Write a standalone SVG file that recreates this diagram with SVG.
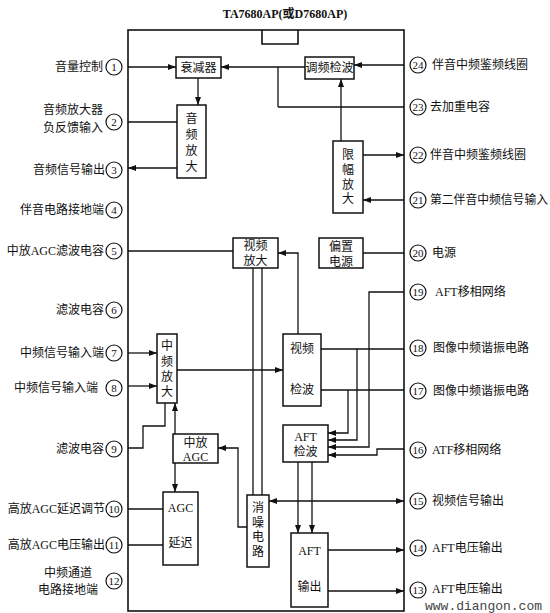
<svg xmlns="http://www.w3.org/2000/svg" width="550" height="613" viewBox="0 0 550 613">
<defs>
<marker id="arr" viewBox="0 0 8 6" refX="8" refY="3" markerWidth="8" markerHeight="6" markerUnits="userSpaceOnUse" orient="auto-start-reverse">
<path d="M0,0 L8,3 L0,6 z" fill="#111"/>
</marker>
<style>
.chip{fill:none;stroke:#111;stroke-width:1.6}
.box{fill:#fff;stroke:#111;stroke-width:1.5}
.ln{fill:none;stroke:#111;stroke-width:1.3}
.a{marker-end:url(#arr)}
.b{marker-start:url(#arr);marker-end:url(#arr)}
.pin{fill:#fff;stroke:#111;stroke-width:1.2}
.num{font-family:"Liberation Serif","Noto Sans CJK SC",serif;font-size:11px;fill:#111;text-anchor:middle}
.lbl{font-family:"Liberation Serif","Noto Sans CJK SC",serif;font-size:12px;fill:#111}
.l{text-anchor:end}
.t{font-family:"Liberation Serif","Noto Sans CJK SC",serif;font-size:12px;fill:#111;text-anchor:middle}
.wm{font-family:"Liberation Mono",monospace;font-size:13px;fill:#444}
</style>
</defs>
<text x="285" y="18" class="t" font-size="12" font-weight="bold">TA7680AP(或D7680AP)</text>
<g id="chip">
<rect x="128" y="30" width="276" height="581" class="chip"/>
<path d="M262,30 V44 H298 V30" class="chip"/>
</g>
<g id="connectors">
<path d="M128,67 H176" class="ln a"/>
<path d="M305,67 H221" class="ln a"/>
<path d="M278,107 H404 M278,107 V67" class="ln"/>
<path d="M198,78 V105" class="ln a"/>
<path d="M128,122 H177" class="ln"/>
<path d="M177,168 H128" class="ln a"/>
<path d="M404,65 H354" class="ln a"/>
<path d="M341,141 V79" class="ln a"/>
<path d="M363,155 H404" class="ln a"/>
<path d="M404,200 H363" class="ln a"/>
<path d="M128,251 H233" class="ln"/>
<path d="M363,253 H404" class="ln"/>
<path d="M298,334 V253 H278" class="ln a"/>
<path d="M128,353 H157" class="ln a"/>
<path d="M128,386 H157" class="ln a"/>
<path d="M177,370 H283" class="ln a"/>
<path d="M253,268 V495 M262,268 V495" class="ln"/>
<path d="M128,448 H143 V426 H165 V403" class="ln"/>
<path d="M175,434 V403" class="ln a"/>
<path d="M175,463 V492" class="ln a"/>
<path d="M247,527 H238 V448 H218" class="ln a"/>
<path d="M128,509 H163 M128,545 H163" class="ln"/>
<path d="M269,501 H404" class="ln b"/>
<path d="M298,462 V533" class="ln a"/>
<path d="M312,462 V533" class="ln a"/>
<path d="M328,550 H404" class="ln a"/>
<path d="M328,591 H404" class="ln a"/>
<path d="M321,349 H404 M321,390 H404" class="ln"/>
<path d="M348,390 V433 H328" class="ln a"/>
<path d="M357,349 V440 H328" class="ln a"/>
<path d="M404,292 H369 V447 H328" class="ln a"/>
<path d="M404,449 H377 V455 H328" class="ln a"/>
</g>
<g id="n-shuaijianqi"><rect x="176" y="57" width="45" height="21" class="box"/><text x="198.5" y="72" class="t">衰减器</text></g>
<g id="n-yinpinfangda"><rect x="177" y="105" width="29" height="73" class="box"/>
<text x="191.5" y="123" class="t">音</text><text x="191.5" y="139" class="t">频</text><text x="191.5" y="155" class="t">放</text><text x="191.5" y="171" class="t">大</text></g>
<g id="n-tiaopinjianbo"><rect x="305" y="57" width="49" height="22" class="box"/><text x="329.5" y="72" class="t">调频检波</text></g>
<g id="n-xianfufangda"><rect x="333" y="141" width="30" height="72" class="box"/>
<text x="348" y="159" class="t">限</text><text x="348" y="174" class="t">幅</text><text x="348" y="189" class="t">放</text><text x="348" y="203" class="t">大</text></g>
<g id="n-shipinfangda"><rect x="233" y="238" width="45" height="30" class="box"/>
<text x="255.5" y="250" class="t">视频</text><text x="255.5" y="265" class="t">放大</text></g>
<g id="n-pianzhidianyuan"><rect x="319" y="238" width="44" height="30" class="box"/>
<text x="341" y="251" class="t">偏置</text><text x="341" y="266" class="t">电源</text></g>
<g id="n-zhongpinfangda"><rect x="157" y="334" width="20" height="69" class="box"/>
<text x="167" y="350" class="t">中</text><text x="167" y="366" class="t">频</text><text x="167" y="381" class="t">放</text><text x="167" y="396" class="t">大</text></g>
<g id="n-shipinjianbo"><rect x="283" y="334" width="38" height="72" class="box"/>
<text x="302" y="353" class="t">视频</text><text x="302" y="394" class="t">检波</text></g>
<g id="n-aftjianbo"><rect x="283" y="425" width="45" height="37" class="box"/>
<text x="305.5" y="441" class="t">AFT</text><text x="305.5" y="456" class="t">检波</text></g>
<g id="n-zhongfangagc"><rect x="173" y="434" width="45" height="29" class="box"/>
<text x="195.5" y="447" class="t">中放</text><text x="195.5" y="461" class="t">AGC</text></g>
<g id="n-agcyanchi"><rect x="163" y="492" width="35" height="73" class="box"/>
<text x="180.5" y="512" class="t">AGC</text><text x="180.5" y="547" class="t">延迟</text></g>
<g id="n-xiaozaodianlu"><rect x="247" y="495" width="22" height="72" class="box"/>
<text x="258" y="512" class="t">消</text><text x="258" y="527" class="t">噪</text><text x="258" y="541" class="t">电</text><text x="258" y="556" class="t">路</text></g>
<g id="n-aftshuchu"><rect x="291" y="533" width="37" height="74" class="box"/>
<text x="309.5" y="555" class="t">AFT</text><text x="309.5" y="591" class="t">输出</text></g>
<g id="pins-left">
<g id="p1"><circle cx="114" cy="67" r="8" class="pin"/><text x="114" y="71" class="num">1</text><text x="103" y="71" class="lbl l">音量控制</text></g>
<g id="p2"><circle cx="114" cy="122" r="8" class="pin"/><text x="114" y="126" class="num">2</text><text x="103" y="114" class="lbl l">音频放大器</text><text x="103" y="132" class="lbl l">负反馈输入</text></g>
<g id="p3"><circle cx="114" cy="170" r="8" class="pin"/><text x="114" y="174" class="num">3</text><text x="105" y="174" class="lbl l">音频信号输出</text></g>
<g id="p4"><circle cx="114" cy="210" r="8" class="pin"/><text x="114" y="214" class="num">4</text><text x="104" y="214" class="lbl l">伴音电路接地端</text></g>
<g id="p5"><circle cx="114" cy="251" r="8" class="pin"/><text x="114" y="255" class="num">5</text><text x="104" y="255" class="lbl l">中放AGC滤波电容</text></g>
<g id="p6"><circle cx="114" cy="310" r="8" class="pin"/><text x="114" y="314" class="num">6</text><text x="104" y="314" class="lbl l">滤波电容</text></g>
<g id="p7"><circle cx="114" cy="353" r="8" class="pin"/><text x="114" y="357" class="num">7</text><text x="104" y="357" class="lbl l">中频信号输入端</text></g>
<g id="p8"><circle cx="114" cy="388" r="8" class="pin"/><text x="114" y="392" class="num">8</text><text x="98" y="392" class="lbl l">中频信号输入端</text></g>
<g id="p9"><circle cx="114" cy="449" r="8" class="pin"/><text x="114" y="453" class="num">9</text><text x="104" y="453" class="lbl l">滤波电容</text></g>
<g id="p10"><circle cx="114" cy="509" r="8" class="pin"/><text x="114" y="513" class="num">10</text><text x="105" y="513" class="lbl l">高放AGC延迟调节</text></g>
<g id="p11"><circle cx="114" cy="545" r="8" class="pin"/><text x="114" y="549" class="num">11</text><text x="105" y="549" class="lbl l">高放AGC电压输出</text></g>
<g id="p12"><circle cx="114" cy="581" r="8" class="pin"/><text x="114" y="585" class="num">12</text><text x="68" y="577" class="lbl" text-anchor="middle">中频通道</text><text x="68" y="594" class="lbl" text-anchor="middle">电路接地端</text></g>
</g>
<g id="pins-right">
<g id="p24"><circle cx="418" cy="65" r="8" class="pin"/><text x="418" y="69" class="num">24</text><text x="432" y="69" class="lbl">伴音中频鉴频线圈</text></g>
<g id="p23"><circle cx="418" cy="107" r="8" class="pin"/><text x="418" y="111" class="num">23</text><text x="430" y="111" class="lbl">去加重电容</text></g>
<g id="p22"><circle cx="418" cy="155" r="8" class="pin"/><text x="418" y="159" class="num">22</text><text x="430" y="159" class="lbl">伴音中频鉴频线圈</text></g>
<g id="p21"><circle cx="418" cy="200" r="8" class="pin"/><text x="418" y="204" class="num">21</text><text x="430" y="204" class="lbl" textLength="118" lengthAdjust="spacingAndGlyphs">第二伴音中频信号输入</text></g>
<g id="p20"><circle cx="418" cy="253" r="8" class="pin"/><text x="418" y="257" class="num">20</text><text x="432" y="257" class="lbl">电源</text></g>
<g id="p19"><circle cx="418" cy="292" r="8" class="pin"/><text x="418" y="296" class="num">19</text><text x="435" y="296" class="lbl">AFT移相网络</text></g>
<g id="p18"><circle cx="418" cy="348" r="8" class="pin"/><text x="418" y="352" class="num">18</text><text x="433" y="352" class="lbl">图像中频谐振电路</text></g>
<g id="p17"><circle cx="418" cy="391" r="8" class="pin"/><text x="418" y="395" class="num">17</text><text x="433" y="395" class="lbl">图像中频谐振电路</text></g>
<g id="p16"><circle cx="418" cy="450" r="8" class="pin"/><text x="418" y="454" class="num">16</text><text x="432" y="454" class="lbl">ATF移相网络</text></g>
<g id="p15"><circle cx="418" cy="501" r="8" class="pin"/><text x="418" y="505" class="num">15</text><text x="432" y="505" class="lbl">视频信号输出</text></g>
<g id="p14"><circle cx="418" cy="548" r="8" class="pin"/><text x="418" y="552" class="num">14</text><text x="432" y="552" class="lbl">AFT电压输出</text></g>
<g id="p13"><circle cx="418" cy="590" r="8" class="pin"/><text x="418" y="594" class="num">13</text><text x="432" y="593" class="lbl">AFT电压输出</text></g>
</g>
<text x="425" y="610" class="wm">www.diangon.com</text>
</svg>
